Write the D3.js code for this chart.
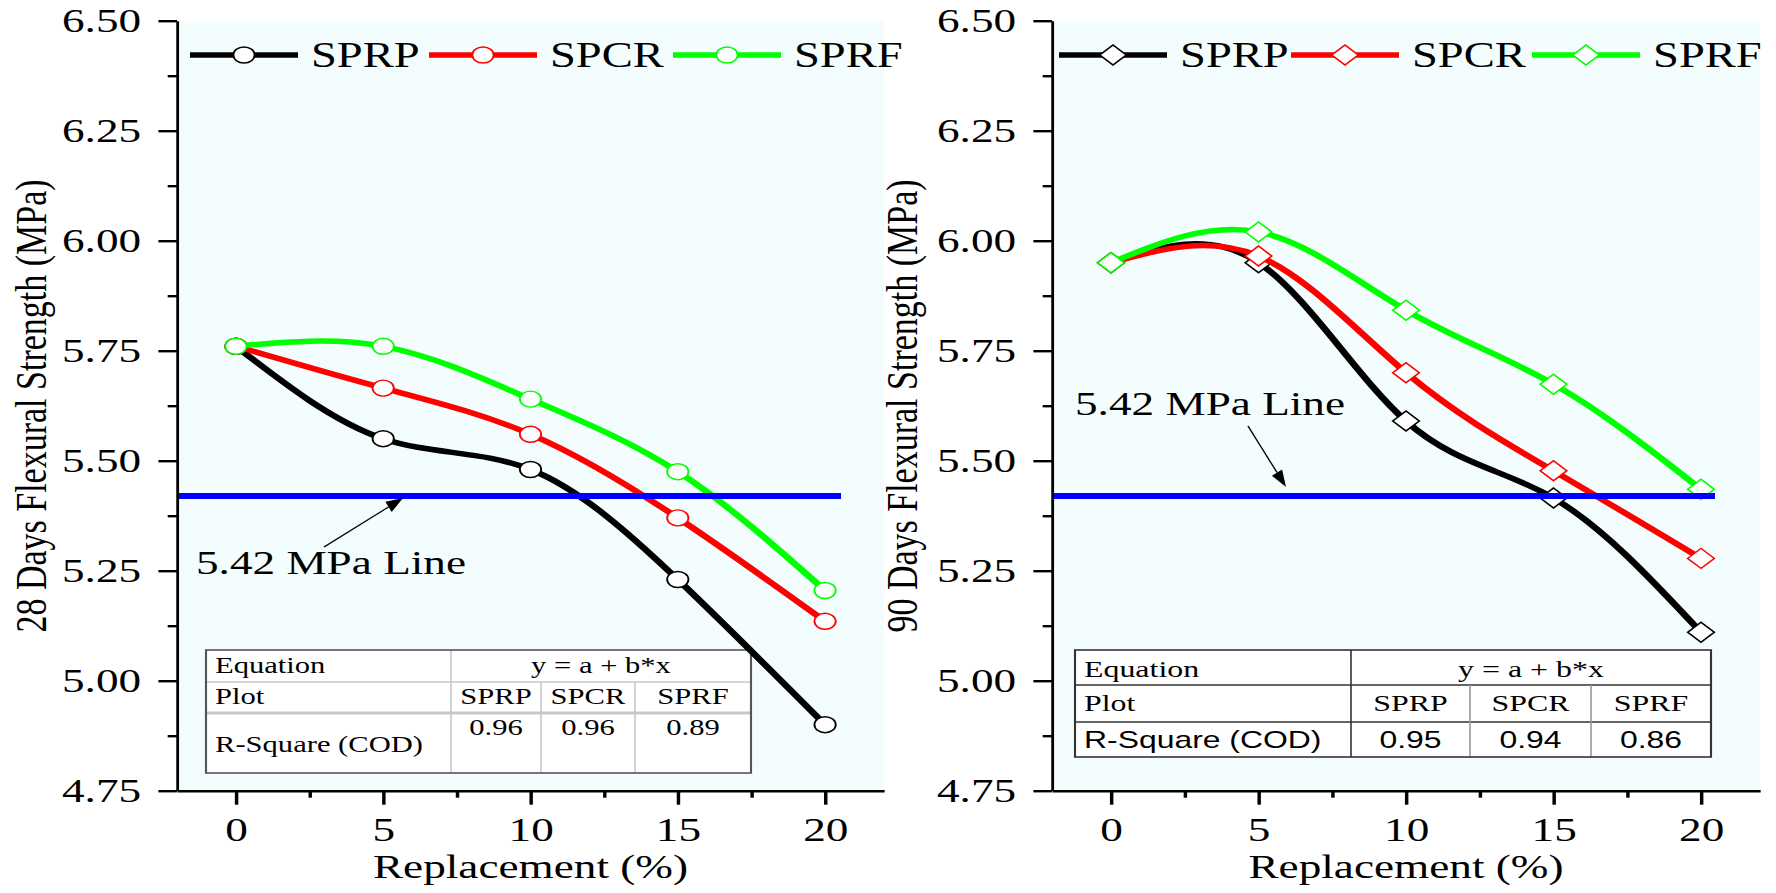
<!DOCTYPE html>
<html>
<head>
<meta charset="utf-8">
<script src="https://cdn.jsdelivr.net/npm/d3@7"></script>
<style>
  html, body { margin: 0; padding: 0; background: #fff; }
  svg { display: block; }
</style>
</head>
<body>
<script>
// values
var replacement = [0, 5, 10, 15, 20];
var sprp28 = [5.76, 5.55, 5.48, 5.23, 4.90];
var spcr28 = [5.76, 5.665, 5.56, 5.37, 5.135];
var sprf28 = [5.76, 5.76, 5.64, 5.475, 5.205];
var sprp90 = [5.95, 5.95, 5.59, 5.415, 5.11];
var spcr90 = [5.95, 5.965, 5.70, 5.477, 5.278];
var sprf90 = [5.95, 6.02, 5.842, 5.674, 5.435];
var seriesNames = ["SPRP", "SPCR", "SPRF"];
var rSquare28 = ["0.96", "0.96", "0.89"];
var rSquare90 = ["0.95", "0.94", "0.86"];
var threshold = 5.42;
var xTicks = [0, 5, 10, 15, 20];
var xMinor = [2.5, 7.5, 12.5, 17.5];
var yTicks = [4.75, 5.00, 5.25, 5.50, 5.75, 6.00, 6.25, 6.50];
var yMinor = [4.875, 5.125, 5.375, 5.625, 5.875, 6.125, 6.375];

var colors = ["#000000", "#ff0000", "#00ff00"];
var SERIF = "'Liberation Serif', 'Times New Roman', serif";
var SANS = "'Liberation Sans', Arial, sans-serif";

// the original figure is stretched sideways, so draw in a narrower box and stretch it
var K = 1.33;
var W = 1776 / K;
function sx(px) { return px / K; }

var svg = d3.select("body").append("svg")
    .attr("width", 1776).attr("height", 893)
    .attr("viewBox", "0 0 " + W + " 893")
    .attr("preserveAspectRatio", "none");

var y = d3.scaleLinear().domain([4.75, 6.5]).range([790.7, 20.7]);

function diamondPath(r) {
    return "M0," + (-r) + "L" + r + ",0L0," + r + "L" + (-r) + ",0Z";
}

function drawMarker(g, shape, color, cx, cy) {
    if (shape === "circle") {
        g.append("circle").attr("cx", cx).attr("cy", cy).attr("r", 8)
            .attr("fill", "#fff").attr("stroke", color).attr("stroke-width", 1.4);
    } else {
        g.append("path").attr("d", diamondPath(10))
            .attr("transform", "translate(" + cx + "," + cy + ")")
            .attr("fill", "#fff").attr("stroke", color).attr("stroke-width", 1.4);
    }
}

function arrow(g, x1, y1, x2, y2) {
    // computed in real pixels, then squeezed into the viewBox
    var dx = x2 - x1, dy = y2 - y1, len = Math.sqrt(dx * dx + dy * dy);
    var ux = dx / len, uy = dy / len;
    var hl = 17, hw = 6;
    var bx = x2 - ux * hl, by = y2 - uy * hl;
    g.append("line")
        .attr("x1", sx(x1)).attr("y1", y1).attr("x2", sx(bx)).attr("y2", by)
        .attr("stroke", "#000").attr("stroke-width", 1.1);
    var pts = [[x2, y2], [bx - uy * hw, by + ux * hw], [bx + uy * hw, by - ux * hw]];
    g.append("polygon")
        .attr("points", pts.map(function (p) { return sx(p[0]) + "," + p[1]; }).join(" "))
        .attr("fill", "#000");
}

function drawPanel(opt) {
    var g = svg.append("g");
    var x = d3.scaleLinear().domain([-2, 22]).range([sx(opt.left), sx(opt.right)]);

    g.append("rect")
        .attr("x", x(-2)).attr("y", y(6.5))
        .attr("width", x(22) - x(-2)).attr("height", y(4.75) - y(6.5))
        .attr("fill", "#f3fdfd");

    // table
    var t = opt.table;
    var tg = g.append("g");
    tg.append("rect")
        .attr("x", sx(t.x0)).attr("y", t.y0)
        .attr("width", sx(t.x1) - sx(t.x0)).attr("height", t.y3 - t.y0)
        .attr("fill", "#fff");
    function hline(yy, x0, x1, c, w) {
        tg.append("line").attr("x1", sx(x0)).attr("x2", sx(x1)).attr("y1", yy).attr("y2", yy)
            .attr("stroke", c).attr("stroke-width", w);
    }
    function vline(xx, y0, y1, c, w) {
        tg.append("line").attr("x1", sx(xx)).attr("x2", sx(xx)).attr("y1", y0).attr("y2", y1)
            .attr("stroke", c).attr("stroke-width", w);
    }
    hline(t.y1, t.x0, t.x1, t.inner, 1.5);
    hline(t.y2, t.x0, t.x1, t.inner, t.midWidth);
    vline(t.cols[0], t.y0, t.y3, t.inner, 1.2);
    vline(t.cols[1], t.y1, t.y3, t.innerV, 1.2);
    vline(t.cols[2], t.y1, t.y3, t.innerV, 1.2);
    tg.append("rect")
        .attr("x", sx(t.x0)).attr("y", t.y0)
        .attr("width", sx(t.x1) - sx(t.x0)).attr("height", t.y3 - t.y0)
        .attr("fill", "none").attr("stroke", t.outer).attr("stroke-width", 1.6);

    function ttext(txt, xx, yy, anchor, fam, size) {
        tg.append("text").attr("x", sx(xx)).attr("y", yy)
            .attr("text-anchor", anchor).attr("font-family", fam)
            .attr("font-size", size).attr("fill", "#000").text(txt);
    }
    ttext("Equation", t.x0 + 9, t.eqY, "start", SERIF, t.size);
    ttext("y = a + b*x", (t.cols[0] + t.x1) / 2, t.eqY, "middle", SERIF, t.size);
    ttext("Plot", t.x0 + 9, t.plotY, "start", SERIF, t.size);
    var centers = [(t.cols[0] + t.cols[1]) / 2, (t.cols[1] + t.cols[2]) / 2, (t.cols[2] + t.x1) / 2];
    seriesNames.forEach(function (n, i) { ttext(n, centers[i], t.plotY, "middle", SERIF, t.size); });
    ttext("R-Square (COD)", t.x0 + 9, t.rsY, "start", t.rsFont, t.size);
    opt.rSquare.forEach(function (v, i) { ttext(v, centers[i], t.valY, "middle", t.rsFont, t.size); });

    // curves
    var line = d3.line()
        .x(function (d) { return x(d[0]); })
        .y(function (d) { return y(d[1]); })
        .curve(d3.curveNatural);

    opt.series.forEach(function (vals, i) {
        var pts = replacement.map(function (r, j) { return [r, vals[j]]; });
        g.append("path").datum(pts).attr("d", line)
            .attr("fill", "none").attr("stroke", colors[i])
            .attr("stroke-width", opt.lineWidth);
        pts.forEach(function (p) { drawMarker(g, opt.marker, colors[i], x(p[0]), y(p[1])); });
    });

    // 5.42 MPa line
    g.append("line")
        .attr("x1", x(-2)).attr("x2", sx(opt.blueEnd))
        .attr("y1", y(threshold)).attr("y2", y(threshold))
        .attr("stroke", "#0000ff").attr("stroke-width", 6);

    // axes
    var ax = g.append("g").attr("transform", "translate(0," + y(4.75) + ")");
    ax.call(d3.axisBottom(x).tickValues(xTicks).tickSize(14).tickSizeOuter(0).tickPadding(12));
    ax.append("g").call(d3.axisBottom(x).tickValues(xMinor).tickSize(7).tickSizeOuter(0).tickFormat(""))
        .select(".domain").remove();
    ax.select(".domain").attr("stroke-width", 2.6);
    ax.selectAll(".tick line").attr("stroke-width", 2.6);
    ax.selectAll("text").attr("font-family", SERIF).attr("font-size", 34).attr("fill", "#000");

    var ay = g.append("g").attr("transform", "translate(" + x(-2) + ",0)");
    ay.call(d3.axisLeft(y).tickValues(yTicks).tickSize(14).tickSizeOuter(0).tickPadding(13)
        .tickFormat(d3.format(".2f")));
    ay.append("g").call(d3.axisLeft(y).tickValues(yMinor).tickSize(7).tickSizeOuter(0).tickFormat(""))
        .select(".domain").remove();
    ay.select(".domain").attr("stroke-width", 2.1);
    ay.selectAll(".tick line").attr("stroke-width", 2.4);
    ay.selectAll("text").attr("font-family", SERIF).attr("font-size", 34).attr("fill", "#000");

    g.append("text")
        .attr("x", (x(-2) + x(22)) / 2).attr("y", 878)
        .attr("text-anchor", "middle").attr("font-family", SERIF).attr("font-size", 34)
        .text("Replacement (%)");

    g.append("text")
        .attr("transform", "translate(" + sx(opt.yLabelX) + ",406) rotate(-90)")
        .attr("text-anchor", "middle").attr("font-family", SERIF).attr("font-size", 34)
        .text(opt.yLabel);

    // legend
    opt.legendX.forEach(function (lx, i) {
        g.append("line")
            .attr("x1", sx(lx)).attr("x2", sx(lx + 108)).attr("y1", 55).attr("y2", 55)
            .attr("stroke", colors[i]).attr("stroke-width", opt.lineWidth);
        drawMarker(g, opt.marker, colors[i], sx(lx + 54), 55);
        g.append("text")
            .attr("x", sx(lx + 121)).attr("y", 67)
            .attr("font-family", SERIF).attr("font-size", 35)
            .text(seriesNames[i]);
    });

    // annotation
    g.append("text")
        .attr("x", sx(opt.note.x)).attr("y", opt.note.y)
        .attr("font-family", SERIF).attr("font-size", 34)
        .text("5.42 MPa Line");
    arrow(g, opt.note.ax1, opt.note.ay1, opt.note.ax2, opt.note.ay2);
}

drawPanel({
    left: 177, right: 884,
    series: [sprp28, spcr28, sprf28],
    marker: "circle",
    lineWidth: 5.5,
    blueEnd: 841,
    yLabel: "28 Days Flexural Strength (MPa)",
    yLabelX: 46,
    legendX: [190, 429, 673],
    rSquare: rSquare28,
    note: { x: 196, y: 574, ax1: 324, ay1: 547, ax2: 403, ay2: 498 },
    table: {
        x0: 206, x1: 751, y0: 650, y1: 682, y2: 713, y3: 773,
        cols: [451, 541, 635],
        outer: "#555", inner: "#c8c8c8", innerV: "#c8c8c8", midWidth: 3,
        size: 23, rsFont: SERIF,
        eqY: 673, plotY: 704, rsY: 752, valY: 735
    }
});

drawPanel({
    left: 1052, right: 1760,
    series: [sprp90, spcr90, sprf90],
    marker: "diamond",
    lineWidth: 5.5,
    blueEnd: 1715,
    yLabel: "90 Days Flexural Strength (MPa)",
    yLabelX: 917,
    legendX: [1059, 1291, 1532],
    rSquare: rSquare90,
    note: { x: 1075, y: 415, ax1: 1248, ay1: 426, ax2: 1286, ay2: 487 },
    table: {
        x0: 1075, x1: 1711, y0: 650, y1: 685, y2: 722, y3: 757,
        cols: [1351, 1470, 1591],
        outer: "#333", inner: "#333", innerV: "#999", midWidth: 1.5,
        size: 24, rsFont: SANS,
        eqY: 677, plotY: 711, rsY: 748, valY: 748
    }
});
</script>
</body>
</html>
